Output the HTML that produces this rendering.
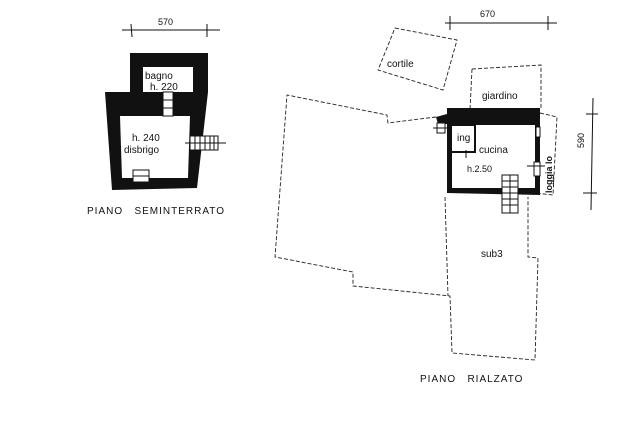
<!DOCTYPE html>
<html><head><meta charset="utf-8"><style>
html,body{margin:0;padding:0;background:#fff;}
svg{display:block;}
text{font-family:"Liberation Sans",sans-serif;fill:#111;}
</style></head><body>
<svg width="642" height="425" viewBox="0 0 642 425" xmlns="http://www.w3.org/2000/svg">
<rect width="642" height="425" fill="#fff"/>
<!-- LEFT PLAN -->
<g stroke="#111" stroke-width="1" fill="none">
<line x1="122" y1="30" x2="220" y2="30"/>
<line x1="131" y1="24" x2="132" y2="37"/>
<line x1="207" y1="24" x2="207" y2="37"/>
</g>
<text x="158" y="25" font-size="9">570</text>
<path d="M130,53 L208,53 L208,92 L197,188 L112,190 L105,92 L130,92 Z" fill="#111"/>
<rect x="143" y="67" width="50" height="25" fill="#fff"/>
<path d="M120,116 L190,116 L188,178 L122,178 Z" fill="#fff"/>
<rect x="163" y="92" width="10" height="24" fill="#fff" stroke="#111" stroke-width="1"/>
<line x1="163" y1="100" x2="173" y2="100" stroke="#111"/><line x1="163" y1="108" x2="173" y2="108" stroke="#111"/>
<rect x="133" y="170" width="16" height="12" fill="#fff" stroke="#111"/>
<line x1="133" y1="176" x2="149" y2="176" stroke="#111"/>
<g stroke="#111" stroke-width="1" fill="#fff">
<rect x="190" y="136" width="28" height="14"/>
<line x1="195" y1="136" x2="195" y2="150"/><line x1="200" y1="136" x2="200" y2="150"/><line x1="205" y1="136" x2="205" y2="150"/><line x1="210" y1="136" x2="210" y2="150"/><line x1="214" y1="136" x2="214" y2="150"/>
<line x1="185" y1="143" x2="226" y2="143"/>
</g>
<text x="145" y="79" font-size="10">bagno</text>
<text x="150" y="90" font-size="10">h. 220</text>
<text x="132" y="141" font-size="10">h. 240</text>
<text x="124" y="153" font-size="10">disbrigo</text>
<text x="87" y="214" font-size="10" letter-spacing="1">PIANO&#160;&#160; SEMINTERRATO</text>
<!-- RIGHT PLAN -->
<g stroke="#111" stroke-width="1" fill="none">
<line x1="445" y1="23" x2="557" y2="23"/>
<line x1="450" y1="16" x2="450" y2="30"/>
<line x1="548" y1="16" x2="548" y2="30"/>
<line x1="593" y1="98" x2="591" y2="210"/>
<line x1="586" y1="114" x2="598" y2="114"/>
<line x1="583" y1="193" x2="597" y2="193"/>
</g>
<text x="480" y="17" font-size="9">670</text>
<text x="0" y="0" font-size="9" transform="translate(584,148) rotate(-90)">590</text>
<g stroke="#222" stroke-width="0.9" fill="none" stroke-dasharray="4,2">
<path d="M395,28 L457,40 L443,90 L378,70 Z"/>
<path d="M472,69 L541,65 L541,110 M472,69 L470,110"/>
<path d="M436,117 L388,123 L387,115 L287,95 L275,257 L353,272 L353,286 L450,296 L452,353 L535,360 L538,258 L528,257 L528,197"/>
<path d="M445,197 L448,296"/>
<path d="M540,113 L557,117 L553,195 L535,193"/>
</g>
<path d="M447,108 L540,108 L540,195 L447,193 Z" fill="#111"/>
<path d="M452,125 L535,125 L535,188 L452,188 Z" fill="#fff"/>
<path d="M452,125 L475,125 L475,152 L452,152" fill="none" stroke="#111" stroke-width="2"/>
<path d="M436,117 L447,114 L447,124 L438,124 Z" fill="#111"/>
<g stroke="#111" stroke-width="1" fill="#fff">
<rect x="502" y="175" width="16" height="38"/>
<line x1="502" y1="181" x2="518" y2="181"/><line x1="502" y1="187" x2="518" y2="187"/><line x1="502" y1="193" x2="518" y2="193"/><line x1="502" y1="199" x2="518" y2="199"/><line x1="502" y1="205" x2="518" y2="205"/>
<line x1="510" y1="175" x2="510" y2="213"/>
<rect x="437" y="123" width="8" height="10"/>
<line x1="433" y1="128" x2="452" y2="128"/>
<rect x="536" y="127" width="4" height="10"/>
<rect x="534" y="162" width="6" height="14"/>
<line x1="527" y1="166" x2="545" y2="166"/>
<line x1="466" y1="150" x2="466" y2="158"/>
</g>
<text x="387" y="67" font-size="10">cortile</text>
<text x="482" y="99" font-size="10">giardino</text>
<text x="457" y="141" font-size="10">ing</text>
<text x="479" y="153" font-size="10">cucina</text>
<text x="467" y="172" font-size="9">h.2.50</text>
<text x="0" y="0" font-size="9" font-weight="bold" transform="translate(552,193) rotate(-90)">loggia lo</text>
<text x="481" y="257" font-size="10">sub3</text>
<text x="420" y="382" font-size="10" letter-spacing="1">PIANO&#160;&#160; RIALZATO</text>
</svg>
</body></html>
